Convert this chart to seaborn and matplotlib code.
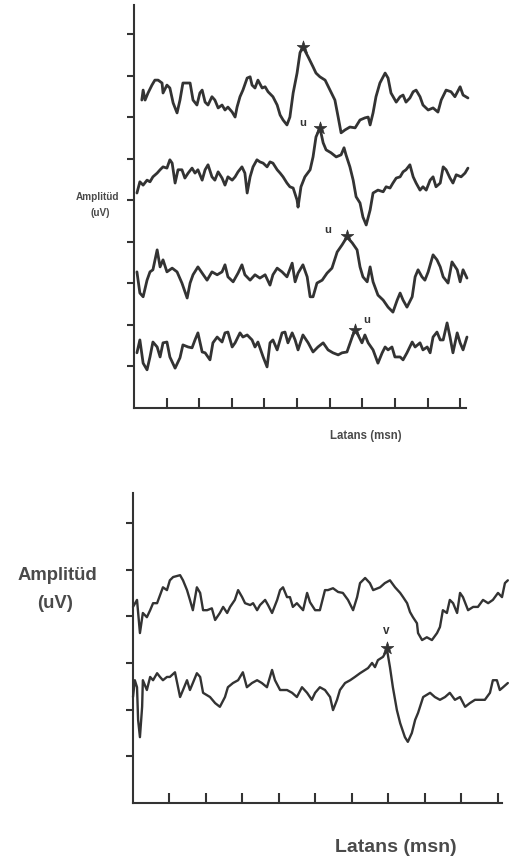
import numpy as np
import pandas as pd
import matplotlib
matplotlib.use("Agg")
import matplotlib.pyplot as plt
import seaborn as sns

# ---------------- data (latency in ms, amplitude in axis-tick units) ----------------
# Top panel, four stacked recordings
t1_lat = [0.24,0.28,0.34,0.43,0.55,0.64,0.74,0.86,0.89,1.01,1.10,1.20,1.32,1.41,1.50,1.63,1.72,1.81,1.93,2.02,
          2.09,2.18,2.27,2.39,2.48,2.58,2.70,2.79,2.88,3.01,3.10,3.16,3.25,3.34,3.47,3.56,3.62,3.71,3.80,3.93,
          4.02,4.11,4.26,4.39,4.48,4.57,4.69,4.78,4.88,5.00,5.09,5.18,5.34,5.49,5.58,5.70,5.86,6.01,6.16,6.26,
          6.35,6.47,6.62,6.78,6.93,7.08,7.18,7.24,7.33,7.42,7.54,7.70,7.79,7.88,8.04,8.16,8.25,8.34,8.46,8.56,
          8.65,8.77,8.86,9.02,9.17,9.32,9.42,9.57,9.72,9.84,10.00,10.09,10.24]
t1_amp = [7.42,7.66,7.42,7.59,7.78,7.90,7.90,7.83,7.59,7.78,7.71,7.35,7.11,7.42,7.83,7.83,7.83,7.42,7.30,7.59,
          7.66,7.37,7.30,7.50,7.42,7.23,7.30,7.18,7.25,7.13,7.01,7.25,7.50,7.66,7.95,7.98,7.78,7.71,7.90,7.71,
          7.74,7.62,7.50,7.30,7.06,6.94,6.82,7.01,7.59,8.07,8.56,8.70,8.46,8.22,8.07,7.98,7.90,7.66,7.42,7.01,
          6.63,6.70,6.77,6.75,6.94,6.99,7.01,6.82,7.11,7.50,7.83,8.07,7.95,7.59,7.37,7.50,7.54,7.37,7.47,7.62,
          7.66,7.50,7.30,7.18,7.23,7.13,7.42,7.66,7.62,7.50,7.74,7.54,7.47]

t2_lat = [0.09,0.18,0.28,0.40,0.49,0.58,0.71,0.80,0.89,1.01,1.10,1.17,1.26,1.35,1.47,1.56,1.66,1.78,1.87,1.96,
          2.09,2.18,2.27,2.39,2.48,2.58,2.70,2.79,2.88,3.01,3.10,3.19,3.31,3.40,3.47,3.56,3.65,3.77,3.86,3.96,
          4.08,4.17,4.26,4.39,4.48,4.57,4.69,4.78,4.88,5.00,5.03,5.12,5.24,5.40,5.49,5.58,5.70,5.80,5.89,6.04,
          6.20,6.35,6.44,6.50,6.62,6.72,6.81,6.93,7.02,7.12,7.24,7.33,7.48,7.64,7.73,7.85,7.94,8.04,8.16,8.25,
          8.34,8.46,8.56,8.65,8.77,8.86,8.96,9.08,9.17,9.26,9.39,9.48,9.57,9.69,9.78,9.88,10.03,10.15,10.24]
t2_amp = [5.18,5.45,5.37,5.49,5.45,5.57,5.66,5.74,5.81,5.78,5.98,5.90,5.42,5.74,5.74,5.54,5.66,5.78,5.66,5.74,
          5.49,5.74,5.86,5.57,5.49,5.69,5.54,5.37,5.57,5.49,5.57,5.69,5.81,5.66,5.18,5.57,5.81,5.98,5.93,5.90,
          5.81,5.93,5.90,5.74,5.66,5.57,5.42,5.33,5.30,5.01,4.84,5.33,5.57,5.74,6.05,6.53,6.75,6.39,6.22,6.15,
          6.05,6.10,6.27,6.10,5.81,5.49,5.09,4.94,4.60,4.41,4.77,5.18,5.25,5.21,5.33,5.30,5.42,5.54,5.57,5.69,
          5.74,5.86,5.57,5.42,5.25,5.33,5.25,5.49,5.57,5.33,5.42,5.81,5.74,5.54,5.42,5.62,5.57,5.66,5.78]

t3_lat = [0.09,0.18,0.28,0.40,0.49,0.58,0.71,0.80,0.89,1.01,1.17,1.32,1.47,1.63,1.72,1.81,1.96,2.09,2.24,2.39,
          2.55,2.70,2.79,2.88,3.04,3.19,3.31,3.40,3.56,3.71,3.86,4.02,4.17,4.26,4.39,4.54,4.69,4.85,4.94,5.03,
          5.18,5.31,5.40,5.49,5.61,5.77,5.92,6.07,6.23,6.38,6.53,6.69,6.84,6.93,7.02,7.15,7.24,7.33,7.48,7.64,
          7.79,7.94,8.07,8.16,8.25,8.37,8.53,8.62,8.71,8.83,8.92,9.02,9.17,9.29,9.39,9.48,9.63,9.75,9.91,10.00,
          10.09,10.21]
t3_amp = [3.28,2.77,2.68,3.08,3.28,3.33,3.81,3.40,3.57,3.28,3.37,3.28,3.01,2.65,3.01,3.21,3.40,3.25,3.08,3.28,
          3.21,3.28,3.45,3.16,3.04,3.25,3.45,3.21,3.08,3.21,3.13,3.21,2.96,3.21,3.37,3.28,3.16,3.49,3.04,3.25,
          3.45,3.16,2.68,2.68,3.01,3.08,3.25,3.37,3.76,3.93,4.12,3.98,3.81,3.40,3.16,3.04,3.40,3.04,2.72,2.60,
          2.43,2.31,2.60,2.77,2.60,2.43,2.68,3.16,3.33,3.16,3.08,3.28,3.69,3.57,3.40,3.16,3.01,3.52,3.33,3.04,
          3.33,3.13]

t4_lat = [0.09,0.18,0.28,0.40,0.49,0.58,0.71,0.80,0.89,1.01,1.10,1.26,1.41,1.50,1.66,1.78,1.87,1.96,2.09,2.18,
          2.33,2.42,2.55,2.70,2.79,2.88,3.01,3.10,3.25,3.34,3.47,3.62,3.71,3.80,3.96,4.08,4.17,4.26,4.39,4.54,
          4.63,4.72,4.85,4.94,5.03,5.18,5.34,5.49,5.64,5.80,5.95,6.10,6.26,6.38,6.53,6.69,6.78,6.87,6.99,7.08,
          7.18,7.33,7.48,7.61,7.70,7.79,7.91,8.00,8.16,8.25,8.37,8.53,8.62,8.77,8.86,8.99,9.08,9.17,9.29,9.39,
          9.48,9.60,9.69,9.78,9.91,10.00,10.09,10.21]
t4_amp = [1.33,1.64,1.08,0.92,1.23,1.59,1.47,1.23,1.57,1.59,1.23,0.96,1.21,1.52,1.47,1.45,1.64,1.81,1.35,1.33,
          1.16,1.57,1.71,1.59,1.81,1.83,1.47,1.57,1.81,1.71,1.76,1.64,1.47,1.59,1.23,0.99,1.57,1.64,1.40,1.81,
          1.83,1.57,1.81,1.64,1.40,1.76,1.57,1.35,1.47,1.57,1.40,1.33,1.28,1.33,1.35,1.71,1.88,1.76,1.57,1.76,
          1.57,1.40,1.08,1.33,1.47,1.40,1.47,1.23,1.23,1.16,1.33,1.59,1.47,1.57,1.40,1.47,1.33,1.71,1.83,1.64,
          1.64,2.05,1.71,1.33,1.81,1.57,1.40,1.71]

# wave V peaks (stars) and their "u" labels, top panel
top_peak_lat = [5.18, 5.70, 6.53, 6.78]
top_peak_amp = [8.70, 6.75, 4.15, 1.88]
top_lbl_lat = [5.18, 5.95, 7.15]
top_lbl_amp = [6.87, 4.29, 2.12]
top_lbl_txt = ["u", "u", "u"]

# Bottom panel, two recordings
bA_lat = [0.00,0.11,0.19,0.27,0.38,0.47,0.55,0.66,0.74,0.82,0.93,1.01,1.10,1.29,1.37,1.48,1.56,1.64,1.75,1.84,
          1.92,2.03,2.16,2.25,2.38,2.47,2.58,2.66,2.79,2.88,2.99,3.07,3.21,3.29,3.40,3.48,3.62,3.70,3.81,3.95,
          4.03,4.11,4.22,4.30,4.38,4.49,4.58,4.66,4.77,4.85,4.99,5.12,5.26,5.34,5.48,5.62,5.75,5.89,6.03,6.14,
          6.22,6.36,6.49,6.58,6.77,6.90,7.04,7.18,7.32,7.40,7.51,7.59,7.67,7.78,7.81,7.92,8.05,8.19,8.33,8.41,
          8.49,8.60,8.68,8.77,8.88,8.96,9.04,9.18,9.32,9.45,9.59,9.73,9.86,10.00,10.11,10.19,10.27]
bA_amp = [4.20,4.35,3.64,4.07,3.98,4.13,4.28,4.28,4.45,4.62,4.56,4.77,4.84,4.88,4.77,4.56,4.35,4.13,4.62,4.50,
          4.13,4.13,4.17,3.92,4.07,4.20,4.07,4.20,4.35,4.56,4.41,4.28,4.24,4.28,4.13,4.24,4.35,4.24,4.07,4.35,
          4.56,4.62,4.41,4.41,4.20,4.28,4.20,4.13,4.50,4.30,4.13,4.13,4.56,4.56,4.60,4.52,4.50,4.35,4.13,4.41,
          4.71,4.82,4.71,4.56,4.62,4.71,4.77,4.62,4.50,4.41,4.28,4.09,3.98,3.85,3.64,3.49,3.55,3.49,3.64,3.77,
          4.13,4.07,4.35,4.28,4.07,4.50,4.41,4.13,4.20,4.20,4.35,4.28,4.35,4.50,4.41,4.71,4.77]

bB_lat = [0.00,0.05,0.11,0.14,0.19,0.25,0.27,0.38,0.47,0.55,0.66,0.74,0.82,0.93,1.01,1.15,1.29,1.37,1.48,1.56,
          1.64,1.75,1.84,1.92,2.11,2.25,2.38,2.52,2.60,2.74,2.88,3.01,3.12,3.26,3.40,3.53,3.67,3.81,3.89,4.03,
          4.22,4.36,4.49,4.63,4.77,4.90,4.99,5.12,5.26,5.40,5.48,5.59,5.67,5.81,5.95,6.08,6.22,6.36,6.44,6.55,
          6.63,6.71,6.85,6.96,7.04,7.12,7.23,7.32,7.45,7.53,7.64,7.73,7.81,7.95,8.14,8.27,8.41,8.55,8.68,8.82,
          8.96,9.10,9.23,9.37,9.51,9.64,9.78,9.86,9.97,10.05,10.14,10.27]
bB_amp = [2.27,2.63,2.48,1.78,1.41,2.06,2.63,2.42,2.70,2.63,2.78,2.70,2.63,2.70,2.70,2.80,2.27,2.42,2.63,2.42,
          2.57,2.78,2.70,2.36,2.27,2.14,2.06,2.27,2.48,2.57,2.63,2.80,2.48,2.57,2.63,2.57,2.48,2.85,2.63,2.42,
          2.42,2.36,2.27,2.48,2.36,2.21,2.36,2.48,2.42,2.27,1.99,2.21,2.42,2.57,2.63,2.70,2.78,2.85,2.89,3.00,
          2.91,3.06,3.13,3.28,2.91,2.48,1.99,1.71,1.41,1.31,1.50,1.78,1.93,2.27,2.36,2.27,2.21,2.27,2.36,2.21,
          2.27,2.06,2.14,2.21,2.21,2.21,2.36,2.63,2.63,2.42,2.48,2.57]

bot_peak_lat = [6.96]
bot_peak_amp = [3.32]
bot_lbl_lat = [6.93]
bot_lbl_amp = [3.68]
bot_lbl_txt = ["v"]

x_ticks = list(range(1, 11))
top_y_ticks = list(range(1, 10))
bot_y_ticks = list(range(1, 7))

# ---------------- figure ----------------
sns.set_style("white")
plt.rcParams['font.family'] = ['Liberation Sans', 'DejaVu Sans']

INK = "#333333"
TXT = "#4a4a4a"
W, H = 509, 866
fig = plt.figure(figsize=(W / 100, H / 100), dpi=100)
fig.patch.set_facecolor("white")

ax1 = fig.add_axes([134 / W, 1 - 408 / H, (466 - 134) / W, (408 - 5) / H])
ax2 = fig.add_axes([133 / W, 1 - 803 / H, (502 - 133) / W, (803 - 493) / H])

top_df = pd.concat([
    pd.DataFrame({"lat": t1_lat, "amp": t1_amp, "trace": "1"}),
    pd.DataFrame({"lat": t2_lat, "amp": t2_amp, "trace": "2"}),
    pd.DataFrame({"lat": t3_lat, "amp": t3_amp, "trace": "3"}),
    pd.DataFrame({"lat": t4_lat, "amp": t4_amp, "trace": "4"}),
])
bot_df = pd.concat([
    pd.DataFrame({"lat": bA_lat, "amp": bA_amp, "trace": "A"}),
    pd.DataFrame({"lat": bB_lat, "amp": bB_amp, "trace": "B"}),
])

sns.lineplot(data=top_df, x="lat", y="amp", units="trace", estimator=None, sort=False,
             color=INK, linewidth=2.0, ax=ax1, legend=False)
sns.lineplot(data=bot_df, x="lat", y="amp", units="trace", estimator=None, sort=False,
             color=INK, linewidth=1.7, ax=ax2, legend=False)
for ax in (ax1, ax2):
    for ln in ax.lines:
        ln.set_clip_on(False)
        ln.set_solid_joinstyle("round")

sns.scatterplot(x=top_peak_lat, y=top_peak_amp, marker="*", s=90, color=INK,
                edgecolor=INK, linewidth=0.5, ax=ax1, zorder=5, clip_on=False)
sns.scatterplot(x=bot_peak_lat, y=bot_peak_amp, marker="*", s=90, color=INK,
                edgecolor=INK, linewidth=0.5, ax=ax2, zorder=5, clip_on=False)
for x, y, s in zip(top_lbl_lat, top_lbl_amp, top_lbl_txt):
    ax1.text(x, y, s, ha="center", va="center", fontsize=8, fontweight="bold", color=INK)
for x, y, s in zip(bot_lbl_lat, bot_lbl_amp, bot_lbl_txt):
    ax2.text(x, y, s, ha="center", va="center", fontsize=8.5, fontweight="bold", color=INK)

ax1.set_xlim(0, 10.18)
ax1.set_ylim(0, 9.71)
ax2.set_xlim(0, 10.11)
ax2.set_ylim(0, 6.64)

for ax, yt in ((ax1, top_y_ticks), (ax2, bot_y_ticks)):
    ax.set_xticks(x_ticks)
    ax.set_yticks(yt)
    ax.set_xticklabels([])
    ax.set_yticklabels([])
    ax.set_xlabel("")
    ax.set_ylabel("")
    for side in ("top", "right"):
        ax.spines[side].set_visible(False)
    for side in ("left", "bottom"):
        ax.spines[side].set_color(INK)
        ax.spines[side].set_linewidth(1.5)
    ax.tick_params(axis="x", direction="in", length=7, width=1.5, color=INK, bottom=True)
    ax.tick_params(axis="y", direction="out", length=5, width=1.5, color=INK, left=True)
    ax.set_facecolor("none")

# axis titles
fig.text(98 / W, 1 - 197 / H, "Amplitüd", ha="center", va="center", fontsize=7.2,
         fontweight="bold", color=TXT)
fig.text(100 / W, 1 - 213 / H, "(uV)", ha="center", va="center", fontsize=7.2,
         fontweight="bold", color=TXT)
fig.text(366 / W, 1 - 436 / H, "Latans (msn)", ha="center", va="center", fontsize=8.3,
         fontweight="bold", color=TXT)

fig.text(57 / W, 1 - 576 / H, "Amplitüd", ha="center", va="center", fontsize=13.3,
         fontweight="bold", color=TXT)
fig.text(55 / W, 1 - 603 / H, "(uV)", ha="center", va="center", fontsize=13.3,
         fontweight="bold", color=TXT)
fig.text(396 / W, 1 - 847 / H, "Latans (msn)", ha="center", va="center", fontsize=14,
         fontweight="bold", color=TXT)

fig.savefig("out.png", dpi=100, facecolor="white")
